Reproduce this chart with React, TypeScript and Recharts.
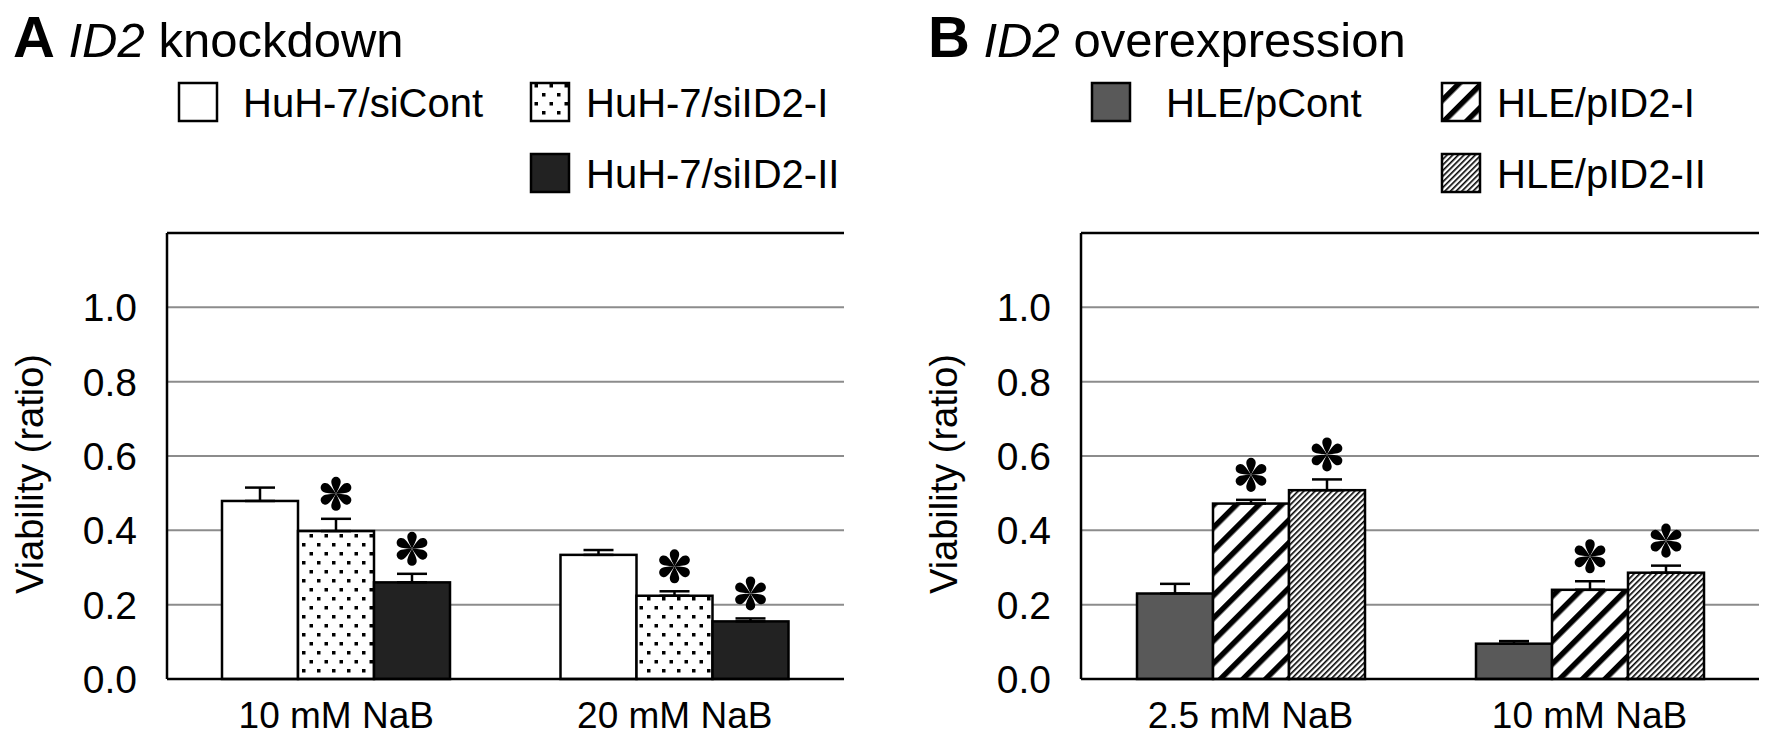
import React from 'react';
import { BarChart, Bar, XAxis, YAxis, CartesianGrid, ErrorBar, ReferenceLine } from 'recharts';

// Panel A: ID2 knockdown
const categoriesA = ['10 mM NaB', '20 mM NaB'];
const siContValues = [0.479, 0.334];
const siContErrors = [0.036, 0.013];
const siContSig = [false, false];
const siID2IValues = [0.398, 0.224];
const siID2IErrors = [0.033, 0.012];
const siID2ISig = [true, true];
const siID2IIValues = [0.26, 0.155];
const siID2IIErrors = [0.023, 0.008];
const siID2IISig = [true, true];

// Panel B: ID2 overexpression
const categoriesB = ['2.5 mM NaB', '10 mM NaB'];
const pContValues = [0.23, 0.095];
const pContErrors = [0.026, 0.007];
const pContSig = [false, false];
const pID2IValues = [0.472, 0.24];
const pID2IErrors = [0.01, 0.023];
const pID2ISig = [true, true];
const pID2IIValues = [0.508, 0.286];
const pID2IIErrors = [0.029, 0.019];
const pID2IISig = [true, true];

const yTicks = [0, 0.2, 0.4, 0.6, 0.8, 1.0];

const FONT = '"Liberation Sans", Arial, Helvetica, sans-serif';

const seriesA = [
  { key: 'siCont', name: 'HuH-7/siCont', fill: '#ffffff', values: siContValues, errors: siContErrors, sig: siContSig },
  { key: 'siID2I', name: 'HuH-7/siID2-I', fill: 'url(#dots)', values: siID2IValues, errors: siID2IErrors, sig: siID2ISig },
  { key: 'siID2II', name: 'HuH-7/siID2-II', fill: '#222222', values: siID2IIValues, errors: siID2IIErrors, sig: siID2IISig },
];

const seriesB = [
  { key: 'pCont', name: 'HLE/pCont', fill: '#595959', values: pContValues, errors: pContErrors, sig: pContSig },
  { key: 'pID2I', name: 'HLE/pID2-I', fill: 'url(#wideStripes)', values: pID2IValues, errors: pID2IErrors, sig: pID2ISig },
  { key: 'pID2II', name: 'HLE/pID2-II', fill: 'url(#fineStripes)', values: pID2IIValues, errors: pID2IIErrors, sig: pID2IISig },
];

function Asterisk({ cx, cy }: { cx: number; cy: number }) {
  const petal = 'M0,0 C-1.5,-3 -4.4,-8.5 -4.2,-11 A4.2,4.2 0 0 1 4.2,-11 C4.4,-8.5 1.5,-3 0,0 Z';
  return (
    <g transform={`translate(${cx},${cy}) scale(1.12)`}>
      {[0, 60, 120, 180, 240, 300].map((a) => (
        <path key={a} d={petal} transform={`rotate(${a})`} fill="#000" />
      ))}
    </g>
  );
}

function makeShape(s: any) {
  return (props: any) => {
    const x = Number(props.x);
    const y = Number(props.y);
    const w = Number(props.width);
    const h = Number(props.height);
    const i = props.index;
    const v = s.values[i];
    const errPx = v > 0 ? (h * s.errors[i]) / v : 0;
    return (
      <g>
        <rect x={x} y={y} width={w} height={h} fill={s.fill} stroke="#000" strokeWidth={2.5} />
        {s.sig[i] ? <Asterisk cx={x + w / 2} cy={y - errPx - 25} /> : null}
      </g>
    );
  };
}

function Panel({ left, width, yAxisWidth, rightMargin, categories, series }: any) {
  const data = categories.map((c: string, i: number) => {
    const row: any = { category: c };
    series.forEach((s: any) => {
      row[s.key] = s.values[i];
      row[s.key + 'Err'] = [0, s.errors[i]];
    });
    return row;
  });
  const axisStyle = { stroke: '#000', strokeWidth: 2.5 };
  return (
    <div style={{ position: 'absolute', left, top: 0 }}>
      <BarChart
        width={width}
        height={741}
        data={data}
        margin={{ top: 233, right: rightMargin, bottom: 12, left: 0 }}
        barGap={0}
        barSize={76}
      >
        <CartesianGrid vertical={false} stroke="#8c8c8c" strokeWidth={2} />
        <XAxis
          dataKey="category"
          height={50}
          interval={0}
          tickLine={false}
          tickSize={0}
          tickMargin={23}
          axisLine={axisStyle}
          tick={{ fill: '#000', fontSize: 37, fontFamily: FONT }}
        />
        <YAxis
          width={yAxisWidth}
          domain={[0, 1.2]}
          ticks={yTicks}
          tickFormatter={(v: number) => v.toFixed(1)}
          tickLine={false}
          tickSize={0}
          tickMargin={30}
          axisLine={axisStyle}
          tick={{ fill: '#000', fontSize: 39, fontFamily: FONT }}
        />
        <YAxis
          yAxisId="right"
          orientation="right"
          width={0}
          domain={[0, 1.2]}
          tick={false}
          tickLine={false}
          axisLine={axisStyle}
        />
        <ReferenceLine y={1.2} stroke="#000" strokeWidth={2.5} />
        {series.map((s: any) => (
          <Bar
            key={s.key}
            dataKey={s.key}
            name={s.name}
            fill={s.fill}
            isAnimationActive={false}
            shape={makeShape(s)}
          >
            <ErrorBar dataKey={s.key + 'Err'} direction="y" width={15} stroke="#000" strokeWidth={2.5} />
          </Bar>
        ))}
      </BarChart>
    </div>
  );
}

function LegendItem({ x, y, textX, fill, label }: any) {
  return (
    <g>
      <rect x={x} y={y} width={38} height={38} fill={fill} stroke="#000" strokeWidth={2.5} />
      <text x={textX} y={y + 34} fontSize={40} fill="#000">
        {label}
      </text>
    </g>
  );
}

export default function App() {
  return (
    <div style={{ position: 'absolute', left: 0, top: 0, width: 1772, height: 741, background: '#fff', fontFamily: FONT }}>
      <svg width={0} height={0} style={{ position: 'absolute' }}>
        <defs>
          <pattern id="dots" patternUnits="userSpaceOnUse" width={15} height={18}>
            <rect width={15} height={18} fill="#fff" />
            <rect x={2} y={3} width={3.5} height={3.5} fill="#000" />
            <rect x={9.5} y={12} width={3.5} height={3.5} fill="#000" />
          </pattern>
          <pattern id="wideStripes" patternUnits="userSpaceOnUse" width={16} height={16} patternTransform="rotate(45)">
            <rect width={16} height={16} fill="#fff" />
            <rect x={0} y={0} width={5.5} height={16} fill="#000" />
          </pattern>
          <pattern id="fineStripes" patternUnits="userSpaceOnUse" width={4} height={4} patternTransform="rotate(45)">
            <rect width={4} height={4} fill="#fff" />
            <rect x={0} y={0} width={1.6} height={4} fill="#000" />
          </pattern>
        </defs>
      </svg>

      <Panel left={0} width={880} yAxisWidth={167} rightMargin={36} categories={categoriesA} series={seriesA} />
      <Panel left={900} width={872} yAxisWidth={181} rightMargin={13} categories={categoriesB} series={seriesB} />

      <svg width={1772} height={741} style={{ position: 'absolute', left: 0, top: 0, pointerEvents: 'none' }} fontFamily={FONT}>
        <text x={13} y={57} fill="#000" fontSize={49}>
          <tspan fontWeight="bold" fontSize={58}>A</tspan>
          <tspan fontStyle="italic"> ID2</tspan>
          <tspan> knockdown</tspan>
        </text>
        <text x={928} y={57} fill="#000" fontSize={49}>
          <tspan fontWeight="bold" fontSize={58}>B</tspan>
          <tspan fontStyle="italic"> ID2</tspan>
          <tspan> overexpression</tspan>
        </text>

        <LegendItem x={179} y={83} textX={243} fill="#ffffff" label={seriesA[0].name} />
        <LegendItem x={531} y={83} textX={586} fill="url(#dots)" label={seriesA[1].name} />
        <LegendItem x={531} y={154} textX={586} fill="#222222" label={seriesA[2].name} />
        <LegendItem x={1092} y={83} textX={1166} fill="#595959" label={seriesB[0].name} />
        <LegendItem x={1442} y={83} textX={1497} fill="url(#wideStripes)" label={seriesB[1].name} />
        <LegendItem x={1442} y={154} textX={1497} fill="url(#fineStripes)" label={seriesB[2].name} />

        <text x={0} y={0} fontSize={38} fill="#000" textAnchor="middle" transform="translate(43,474) rotate(-90)">
          Viability (ratio)
        </text>
        <text x={0} y={0} fontSize={38} fill="#000" textAnchor="middle" transform="translate(957,474) rotate(-90)">
          Viability (ratio)
        </text>
      </svg>
    </div>
  );
}
